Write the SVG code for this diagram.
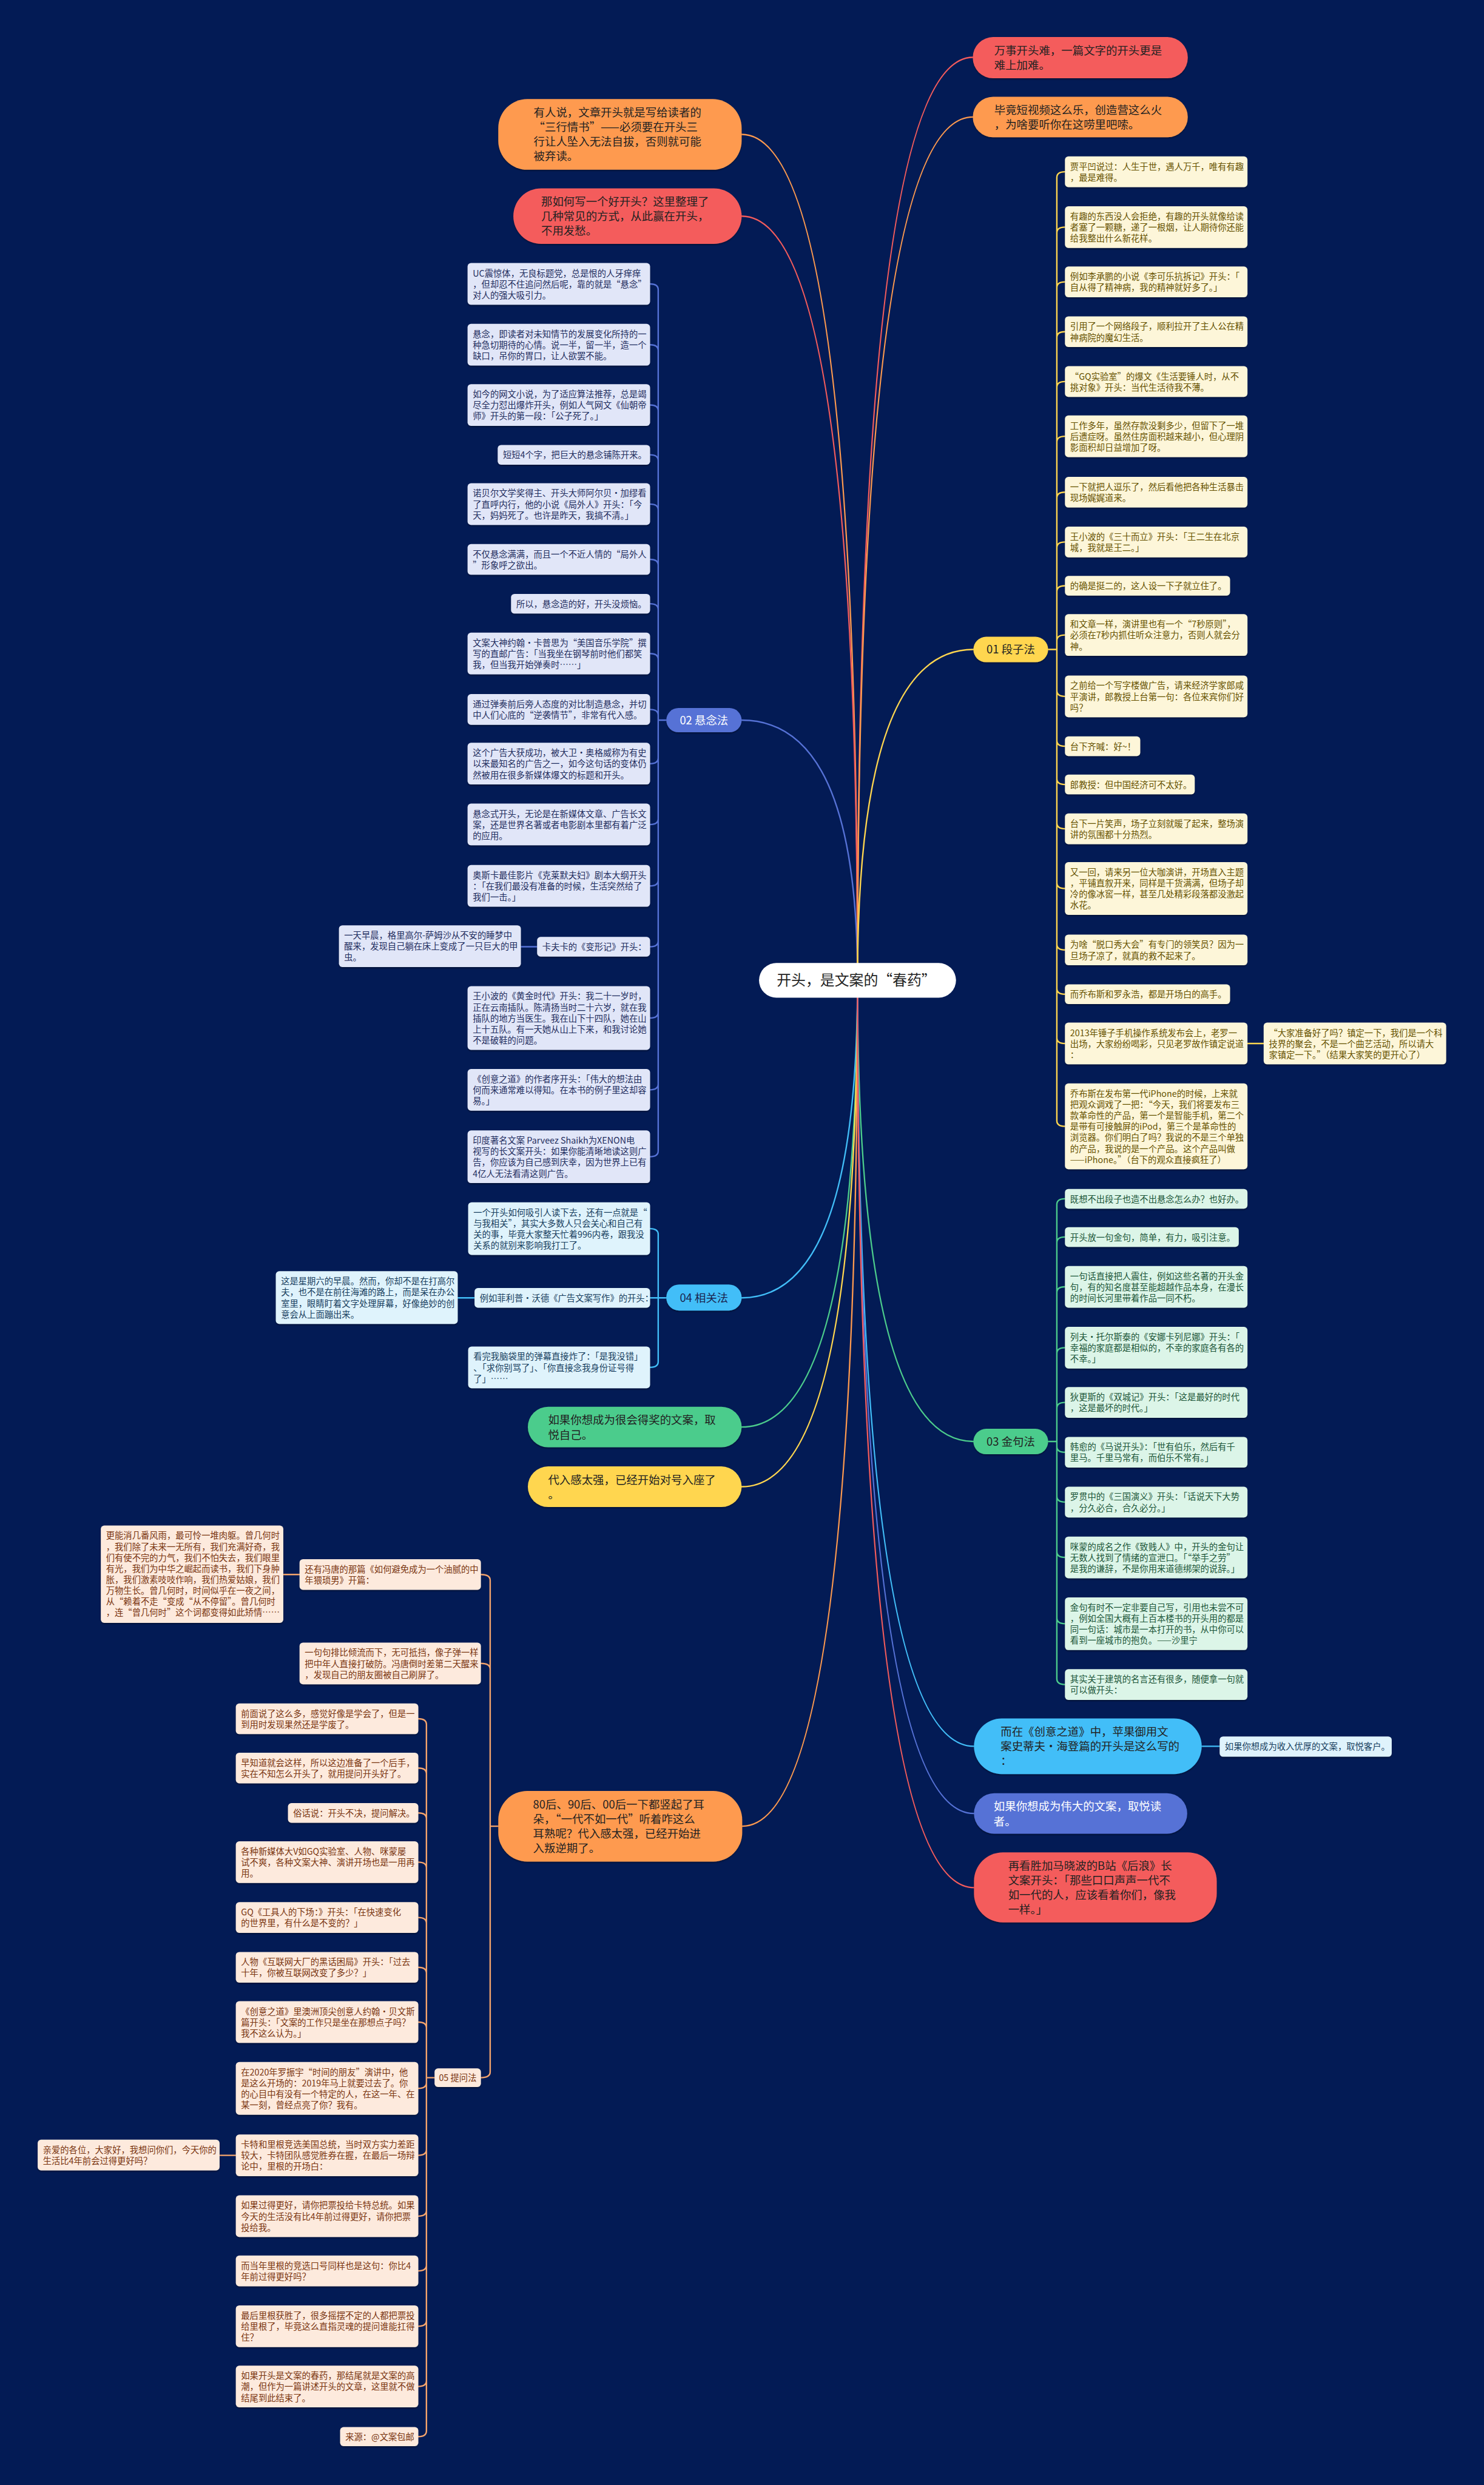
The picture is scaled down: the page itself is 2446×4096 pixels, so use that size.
<svg xmlns="http://www.w3.org/2000/svg" width="2446" height="4096" viewBox="0 0 2446 4096">
<defs>
<style>
text{font-family:'Noto Sans CJK SC','Microsoft YaHei','Liberation Sans',sans-serif}
.t1{font-size:19.3px;fill:#222}
.tw{fill:#fff}
.t2{font-size:15px}
.r02{fill:#e1e6f8}.x02{fill:#1f2d5e}
.r04{fill:#dff3fc}.x04{fill:#173e5e}
.r01{fill:#fdf6d9}.x01{fill:#665200}
.r03{fill:#dcf5e8}.x03{fill:#1b5538}
.r05{fill:#fdeadd}.x05{fill:#7a3510}
.box{filter:url(#sh)}
.ln{fill:none;stroke-width:2.5;stroke-linecap:round}
</style>
<filter id="sh" x="-5%" y="-10%" width="110%" height="130%"><feDropShadow dx="0" dy="2" stdDeviation="1" flood-color="#000" flood-opacity="0.35"/></filter>
</defs>
<rect x="0" y="0" width="2446" height="4096" fill="#031b55"/>
<g transform="scale(0.955)">
<g id="connectors">
<path class="ln" stroke="#fe9a4f" d="M1480 1692Q1480 232 1280 232"/>
<path class="ln" stroke="#f45c5c" d="M1480 1692Q1480 373 1280 373"/>
<path class="ln" stroke="#5672d6" d="M1480 1692Q1480 1243 1280 1243"/>
<path class="ln" stroke="#42bef8" d="M1480 1692Q1480 2240 1280 2240"/>
<path class="ln" stroke="#4ccc8c" d="M1480 1692Q1480 2463 1280 2463"/>
<path class="ln" stroke="#ffd64f" d="M1480 1692Q1480 2566 1280 2566"/>
<path class="ln" stroke="#fe9a4f" d="M1480 1692Q1480 3152 1281 3152"/>
<path class="ln" stroke="#f45c5c" d="M1480 1692Q1480 99 1679 99"/>
<path class="ln" stroke="#fe9a4f" d="M1480 1692Q1480 202 1679 202"/>
<path class="ln" stroke="#ffd64f" d="M1480 1692Q1480 1121 1680 1121"/>
<path class="ln" stroke="#4ccc8c" d="M1480 1692Q1480 2488 1680 2488"/>
<path class="ln" stroke="#42bef8" d="M1480 1692Q1480 3014 1681 3014"/>
<path class="ln" stroke="#5672d6" d="M1480 1692Q1480 3130 1681 3130"/>
<path class="ln" stroke="#f45c5c" d="M1480 1692Q1480 3258 1681 3258"/>
<path class="ln" stroke="#ffd64f" d="M1809 1121H1824M1824 306.5V1934M1824 306.5Q1824 296.5 1838 296.5M1824 402Q1824 392 1838 392M1824 496.5Q1824 486.5 1838 486.5M1824 582.5Q1824 572.5 1838 572.5M1824 668.5Q1824 658.5 1838 658.5M1824 763Q1824 753 1838 753M1824 859.5Q1824 849.5 1838 849.5M1824 945.5Q1824 935.5 1838 935.5M1824 1021Q1824 1011 1838 1011M1824 1106Q1824 1096 1838 1096M1824 1192Q1824 1202 1838 1202M1824 1278Q1824 1288 1838 1288M1824 1344Q1824 1354 1838 1354M1824 1420.5Q1824 1430.5 1838 1430.5M1824 1523.5Q1824 1533.5 1838 1533.5M1824 1629.5Q1824 1639.5 1838 1639.5M1824 1706Q1824 1716 1838 1716M1824 1791Q1824 1801 1838 1801M1824 1934Q1824 1944 1838 1944M2153 1801H2181"/>
<path class="ln" stroke="#4ccc8c" d="M1809 2488H1824M1824 2079V2897.5M1824 2079Q1824 2069 1838 2069M1824 2145Q1824 2135 1838 2135M1824 2231Q1824 2221 1838 2221M1824 2336Q1824 2326 1838 2326M1824 2430.5Q1824 2420.5 1838 2420.5M1824 2496.5Q1824 2506.5 1838 2506.5M1824 2582.5Q1824 2592.5 1838 2592.5M1824 2678Q1824 2688 1838 2688M1824 2792.5Q1824 2802.5 1838 2802.5M1824 2897.5Q1824 2907.5 1838 2907.5"/>
<path class="ln" stroke="#5672d6" d="M1150 1243H1136M1136 500V1986.5M1136 500Q1136 490 1122 490M1136 605Q1136 595 1122 595M1136 709Q1136 699 1122 699M1136 795Q1136 785 1122 785M1136 880Q1136 870 1122 870M1136 975.5Q1136 965.5 1122 965.5M1136 1052Q1136 1042 1122 1042M1136 1138Q1136 1128 1122 1128M1136 1234.5Q1136 1224.5 1122 1224.5M1136 1308Q1136 1318 1122 1318M1136 1413Q1136 1423 1122 1423M1136 1519Q1136 1529 1122 1529M1136 1624Q1136 1634 1122 1634M1136 1747Q1136 1757 1122 1757M1136 1871Q1136 1881 1122 1881M1136 1986.5Q1136 1996.5 1122 1996.5M927 1634H899"/>
<path class="ln" stroke="#42bef8" d="M1150 2240H1122M1136 2130.5V2350M1136 2130.5Q1136 2120.5 1122 2120.5M1136 2350Q1136 2360 1122 2360M819 2240H790M2074 3014H2105"/>
<path class="ln" stroke="#f5a46c" d="M860 3152H846M846 2727.5V3576M846 2727.5Q846 2717.5 830 2717.5M846 2881Q846 2871 830 2871M846 3576Q846 3586 830 3586M517 2717.5H489"/>
<path class="ln" stroke="#f5a46c" d="M750 3586H736M736 2976.5V4195.5M736 2976.5Q736 2966.5 722 2966.5M736 3061.5Q736 3051.5 722 3051.5M736 3139Q736 3129 722 3129M736 3224Q736 3214 722 3214M736 3319.5Q736 3309.5 722 3309.5M736 3405.5Q736 3395.5 722 3395.5M736 3500Q736 3490 722 3490M736 3594.5Q736 3604.5 722 3604.5M736 3710Q736 3720 722 3720M736 3815Q736 3825 722 3825M736 3909.5Q736 3919.5 722 3919.5M736 4005Q736 4015 722 4015M736 4109Q736 4119 722 4119M736 4195.5Q736 4205.5 722 4205.5M407 3720H379"/>
</g>
<g id="center"><rect x="1310" y="1662" width="340" height="60" rx="30" fill="#fff"/><text x="1478" y="1701" text-anchor="middle" style="font-size:25px;fill:#222">开头，是文案的“春药”</text></g>
<g id="r1"><rect class="box" x="1679" y="64" width="371" height="71" rx="35" fill="#f45c5c"/><text class="t1" x="1716" y="94"><tspan x="1716">万事开头难，一篇文字的开头更是</tspan><tspan x="1716" dy="25.3">难上加难。</tspan></text></g>
<g id="r2"><rect class="box" x="1679" y="167" width="371" height="70" rx="35" fill="#fe9a4f"/><text class="t1" x="1716" y="197"><tspan x="1716">毕竟短视频这么乐，创造营这么火</tspan><tspan x="1716" dy="25.3">，为啥要听你在这唠里吧嗦。</tspan></text></g>
<g id="l1"><rect class="box" x="860" y="171" width="420" height="122" rx="50" fill="#fe9a4f"/><text class="t1" x="921" y="201"><tspan x="921">有人说，文章开头就是写给读者的</tspan><tspan x="921" dy="25.3">“三行情书”——必须要在开头三</tspan><tspan x="921" dy="25.3">行让人坠入无法自拔，否则就可能</tspan><tspan x="921" dy="25.3">被弃读。</tspan></text></g>
<g id="l2"><rect class="box" x="886" y="325" width="394" height="96" rx="48" fill="#f45c5c"/><text class="t1" x="934" y="355"><tspan x="934">那如何写一个好开头？这里整理了</tspan><tspan x="934" dy="25.3">几种常见的方式，从此赢在开头，</tspan><tspan x="934" dy="25.3">不用发愁。</tspan></text></g>
<g id="n02"><rect class="box" x="1150" y="1222" width="130" height="42" rx="21" fill="#5672d6"/><text class="t1 tw" x="1215" y="1250" text-anchor="middle">02 悬念法</text></g>
<g id="n04"><rect class="box" x="1150" y="2217" width="130" height="45" rx="22" fill="#42bef8"/><text class="t1" x="1215" y="2247" text-anchor="middle" style="fill:#1a2550">04 相关法</text></g>
<g id="lgreen"><rect class="box" x="911" y="2428" width="369" height="70" rx="35" fill="#4ccc8c"/><text class="t1" x="946" y="2458"><tspan x="946">如果你想成为很会得奖的文案，取</tspan><tspan x="946" dy="25.3">悦自己。</tspan></text></g>
<g id="lyellow"><rect class="box" x="911" y="2531" width="369" height="70" rx="35" fill="#ffd64f"/><text class="t1" x="946" y="2561"><tspan x="946">代入感太强，已经开始对号入座了</tspan><tspan x="946" dy="25.3">。</tspan></text></g>
<g id="l80"><rect class="box" x="860" y="3091" width="421" height="122" rx="50" fill="#fe9a4f"/><text class="t1" x="920" y="3121"><tspan x="920">80后、90后、00后一下都竖起了耳</tspan><tspan x="920" dy="25.3">朵，“一代不如一代”听着咋这么</tspan><tspan x="920" dy="25.3">耳熟呢？代入感太强，已经开始进</tspan><tspan x="920" dy="25.3">入叛逆期了。</tspan></text></g>
<g id="n01"><rect class="box" x="1680" y="1099" width="129" height="44" rx="22" fill="#ffd64f"/><text class="t1" x="1744.5" y="1128" text-anchor="middle">01 段子法</text></g>
<g id="n03"><rect class="box" x="1680" y="2466" width="129" height="44" rx="22" fill="#4ccc8c"/><text class="t1" x="1744.5" y="2495" text-anchor="middle">03 金句法</text></g>
<g id="rblue"><rect class="box" x="1681" y="2966" width="393" height="96" rx="48" fill="#42bef8"/><text class="t1" x="1727" y="2996"><tspan x="1727">而在《创意之道》中，苹果御用文</tspan><tspan x="1727" dy="25.3">案史蒂夫·海登篇的开头是这么写的</tspan><tspan x="1727" dy="25.3">：</tspan></text></g>
<g id="rviolet"><rect class="box" x="1681" y="3095" width="368" height="70" rx="35" fill="#5672d6"/><text class="t1 tw" x="1715" y="3125"><tspan x="1715">如果你想成为伟大的文案，取悦读</tspan><tspan x="1715" dy="25.3">者。</tspan></text></g>
<g id="rred"><rect class="box" x="1681" y="3197" width="419" height="121" rx="50" fill="#f45c5c"/><text class="t1" x="1740" y="3227"><tspan x="1740">再看胜加马晓波的B站《后浪》长</tspan><tspan x="1740" dy="25.3">文案开头：「那些口口声声一代不</tspan><tspan x="1740" dy="25.3">如一代的人，应该看着你们，像我</tspan><tspan x="1740" dy="25.3">一样。」</tspan></text></g>

<g id="n02_1"><rect class="box r02" x="807" y="454" width="315" height="72" rx="6"/><text class="t2 x02" x="816" y="477"><tspan x="816">UC震惊体，无良标题党，总是恨的人牙痒痒</tspan><tspan x="816" dy="19">，但却忍不住追问然后呢，靠的就是“悬念”</tspan><tspan x="816" dy="19">对人的强大吸引力。</tspan></text></g>
<g id="n02_2"><rect class="box r02" x="807" y="559" width="315" height="72" rx="6"/><text class="t2 x02" x="816" y="582"><tspan x="816">悬念，即读者对未知情节的发展变化所持的一</tspan><tspan x="816" dy="19">种急切期待的心情。说一半，留一半，造一个</tspan><tspan x="816" dy="19">缺口，吊你的胃口，让人欲罢不能。</tspan></text></g>
<g id="n02_3"><rect class="box r02" x="807" y="663" width="315" height="72" rx="6"/><text class="t2 x02" x="816" y="686"><tspan x="816">如今的网文小说，为了适应算法推荐，总是竭</tspan><tspan x="816" dy="19">尽全力怼出爆炸开头，例如人气网文《仙朝帝</tspan><tspan x="816" dy="19">师》开头的第一段：「公子死了。」</tspan></text></g>
<g id="n02_4"><rect class="box r02" x="859" y="768" width="263" height="34" rx="6"/><text class="t2 x02" x="868" y="791">短短4个字，把巨大的悬念铺陈开来。</text></g>
<g id="n02_5"><rect class="box r02" x="807" y="834" width="315" height="72" rx="6"/><text class="t2 x02" x="816" y="857"><tspan x="816">诺贝尔文学奖得主、开头大师阿尔贝·加缪看</tspan><tspan x="816" dy="19">了直呼内行，他的小说《局外人》开头：「今</tspan><tspan x="816" dy="19">天，妈妈死了。也许是昨天，我搞不清。」</tspan></text></g>
<g id="n02_6"><rect class="box r02" x="807" y="939" width="315" height="53" rx="6"/><text class="t2 x02" x="816" y="962"><tspan x="816">不仅悬念满满，而且一个不近人情的“局外人</tspan><tspan x="816" dy="19">”形象呼之欲出。</tspan></text></g>
<g id="n02_7"><rect class="box r02" x="882" y="1025" width="240" height="34" rx="6"/><text class="t2 x02" x="891" y="1048">所以，悬念造的好，开头没烦恼。</text></g>
<g id="n02_8"><rect class="box r02" x="807" y="1092" width="315" height="72" rx="6"/><text class="t2 x02" x="816" y="1115"><tspan x="816">文案大神约翰·卡普思为“美国音乐学院”撰</tspan><tspan x="816" dy="19">写的直邮广告：「当我坐在钢琴前时他们都笑</tspan><tspan x="816" dy="19">我，但当我开始弹奏时……」</tspan></text></g>
<g id="n02_9"><rect class="box r02" x="807" y="1198" width="315" height="53" rx="6"/><text class="t2 x02" x="816" y="1221"><tspan x="816">通过弹奏前后旁人态度的对比制造悬念，并切</tspan><tspan x="816" dy="19">中人们心底的“逆袭情节”，非常有代入感。</tspan></text></g>
<g id="n02_10"><rect class="box r02" x="807" y="1282" width="315" height="72" rx="6"/><text class="t2 x02" x="816" y="1305"><tspan x="816">这个广告大获成功，被大卫·奥格威称为有史</tspan><tspan x="816" dy="19">以来最知名的广告之一，如今这句话的变体仍</tspan><tspan x="816" dy="19">然被用在很多新媒体爆文的标题和开头。</tspan></text></g>
<g id="n02_11"><rect class="box r02" x="807" y="1387" width="315" height="72" rx="6"/><text class="t2 x02" x="816" y="1410"><tspan x="816">悬念式开头，无论是在新媒体文章、广告长文</tspan><tspan x="816" dy="19">案，还是世界名著或者电影剧本里都有着广泛</tspan><tspan x="816" dy="19">的应用。</tspan></text></g>
<g id="n02_12"><rect class="box r02" x="807" y="1493" width="315" height="72" rx="6"/><text class="t2 x02" x="816" y="1516"><tspan x="816">奥斯卡最佳影片《克莱默夫妇》剧本大纲开头</tspan><tspan x="816" dy="19">：「在我们最没有准备的时候，生活突然给了</tspan><tspan x="816" dy="19">我们一击。」</tspan></text></g>
<g id="n02_13"><rect class="box r02" x="927" y="1617" width="195" height="34" rx="6"/><text class="t2 x02" x="936" y="1640">卡夫卡的《变形记》开头：</text></g>
<g id="n02_13a"><rect class="box r02" x="585" y="1597" width="314" height="72" rx="6"/><text class="t2 x02" x="594" y="1620"><tspan x="594">一天早晨，格里高尔-萨姆沙从不安的睡梦中</tspan><tspan x="594" dy="19">醒来，发现自己躺在床上变成了一只巨大的甲</tspan><tspan x="594" dy="19">虫。</tspan></text></g>
<g id="n02_14"><rect class="box r02" x="807" y="1702" width="315" height="110" rx="6"/><text class="t2 x02" x="816" y="1725"><tspan x="816">王小波的《黄金时代》开头：我二十一岁时，</tspan><tspan x="816" dy="19">正在云南插队。陈清扬当时二十六岁，就在我</tspan><tspan x="816" dy="19">插队的地方当医生。我在山下十四队，她在山</tspan><tspan x="816" dy="19">上十五队。有一天她从山上下来，和我讨论她</tspan><tspan x="816" dy="19">不是破鞋的问题。</tspan></text></g>
<g id="n02_15"><rect class="box r02" x="807" y="1845" width="315" height="72" rx="6"/><text class="t2 x02" x="816" y="1868"><tspan x="816">《创意之道》的作者序开头：「伟大的想法由</tspan><tspan x="816" dy="19">何而来通常难以得知。在本书的例子里这却容</tspan><tspan x="816" dy="19">易。」</tspan></text></g>
<g id="n02_16"><rect class="box r02" x="807" y="1951" width="315" height="91" rx="6"/><text class="t2 x02" x="816" y="1974"><tspan x="816">印度著名文案 Parveez Shaikh为XENON电</tspan><tspan x="816" dy="19">视写的长文案开头：如果你能清晰地读这则广</tspan><tspan x="816" dy="19">告，你应该为自己感到庆幸，因为世界上已有</tspan><tspan x="816" dy="19">4亿人无法看清这则广告。</tspan></text></g>

<g id="n04_1"><rect class="box r04" x="808" y="2075" width="314" height="91" rx="6"/><text class="t2 x04" x="817" y="2098"><tspan x="817">一个开头如何吸引人读下去，还有一点就是“</tspan><tspan x="817" dy="19">与我相关”，其实大多数人只会关心和自己有</tspan><tspan x="817" dy="19">关的事，毕竟大家整天忙着996内卷，跟我没</tspan><tspan x="817" dy="19">关系的就别来影响我打工了。</tspan></text></g>
<g id="n04_2"><rect class="box r04" x="819" y="2223" width="303" height="34" rx="6"/><text class="t2 x04" x="828" y="2246">例如菲利普·沃德《广告文案写作》的开头：</text></g>
<g id="n04_2a"><rect class="box r04" x="476" y="2194" width="314" height="91" rx="6"/><text class="t2 x04" x="485" y="2217"><tspan x="485">这是星期六的早晨。然而，你却不是在打高尔</tspan><tspan x="485" dy="19">夫，也不是在前往海滩的路上，而是呆在办公</tspan><tspan x="485" dy="19">室里，眼睛盯着文字处理屏幕，好像绝妙的创</tspan><tspan x="485" dy="19">意会从上面蹦出来。</tspan></text></g>
<g id="n04_3"><rect class="box r04" x="808" y="2324" width="314" height="72" rx="6"/><text class="t2 x04" x="817" y="2347"><tspan x="817">看完我脑袋里的弹幕直接炸了：「是我没错」</tspan><tspan x="817" dy="19">、「求你别骂了」、「你直接念我身份证号得</tspan><tspan x="817" dy="19">了」……</tspan></text></g>

<g id="n8_1"><rect class="box r05" x="517" y="2691" width="313" height="53" rx="6"/><text class="t2 x05" x="526" y="2714"><tspan x="526">还有冯唐的那篇《如何避免成为一个油腻的中</tspan><tspan x="526" dy="19">年猥琐男》开篇：</tspan></text></g>
<g id="n8_1a"><rect class="box r05" x="174" y="2633" width="315" height="168" rx="6"/><text class="t2 x05" x="183" y="2656"><tspan x="183">更能消几番风雨，最可怜一堆肉躯。曾几何时</tspan><tspan x="183" dy="19">，我们除了未来一无所有，我们充满好奇，我</tspan><tspan x="183" dy="19">们有使不完的力气，我们不怕失去，我们眼里</tspan><tspan x="183" dy="19">有光，我们为中华之崛起而读书，我们下身肿</tspan><tspan x="183" dy="19">胀，我们激素吱吱作响，我们热爱姑娘，我们</tspan><tspan x="183" dy="19">万物生长。曾几何时，时间似乎在一夜之间，</tspan><tspan x="183" dy="19">从“赖着不走“变成“从不停留”。曾几何时</tspan><tspan x="183" dy="19">，连“曾几何时”这个词都变得如此矫情……</tspan></text></g>
<g id="n8_2"><rect class="box r05" x="517" y="2835" width="313" height="72" rx="6"/><text class="t2 x05" x="526" y="2858"><tspan x="526">一句句排比倾流而下，无可抵挡，像子弹一样</tspan><tspan x="526" dy="19">把中年人直接打破防。冯唐倒时差第二天醒来</tspan><tspan x="526" dy="19">，发现自己的朋友圈被自己刷屏了。</tspan></text></g>
<g id="n05"><rect class="box r05" x="750" y="3570" width="80" height="32" rx="6"/><text class="t2 x05" x="790" y="3592" text-anchor="middle">05 提问法</text></g>

<g id="p1"><rect class="box r05" x="407" y="2940" width="315" height="53" rx="6"/><text class="t2 x05" x="416" y="2963"><tspan x="416">前面说了这么多，感觉好像是学会了，但是一</tspan><tspan x="416" dy="19">到用时发现果然还是学废了。</tspan></text></g>
<g id="p2"><rect class="box r05" x="407" y="3025" width="315" height="53" rx="6"/><text class="t2 x05" x="416" y="3048"><tspan x="416">早知道就会这样，所以这边准备了一个后手，</tspan><tspan x="416" dy="19">实在不知怎么开头了，就用提问开头好了。</tspan></text></g>
<g id="p3"><rect class="box r05" x="497" y="3112" width="225" height="34" rx="6"/><text class="t2 x05" x="506" y="3135">俗话说：开头不决，提问解决。</text></g>
<g id="p4"><rect class="box r05" x="407" y="3178" width="315" height="72" rx="6"/><text class="t2 x05" x="416" y="3201"><tspan x="416">各种新媒体大V如GQ实验室、人物、咪蒙屡</tspan><tspan x="416" dy="19">试不爽，各种文案大神、演讲开场也是一用再</tspan><tspan x="416" dy="19">用。</tspan></text></g>
<g id="p5"><rect class="box r05" x="407" y="3283" width="315" height="53" rx="6"/><text class="t2 x05" x="416" y="3306"><tspan x="416">GQ《工具人的下场：》开头：「在快速变化</tspan><tspan x="416" dy="19">的世界里，有什么是不变的？」</tspan></text></g>
<g id="p6"><rect class="box r05" x="407" y="3369" width="315" height="53" rx="6"/><text class="t2 x05" x="416" y="3392"><tspan x="416">人物《互联网大厂的黑话困局》开头：「过去</tspan><tspan x="416" dy="19">十年，你被互联网改变了多少？」</tspan></text></g>
<g id="p7"><rect class="box r05" x="407" y="3454" width="315" height="72" rx="6"/><text class="t2 x05" x="416" y="3477"><tspan x="416">《创意之道》里澳洲顶尖创意人约翰·贝文斯</tspan><tspan x="416" dy="19">篇开头：「文案的工作只是坐在那想点子吗？</tspan><tspan x="416" dy="19">我不这么认为。」</tspan></text></g>
<g id="p8"><rect class="box r05" x="407" y="3559" width="315" height="91" rx="6"/><text class="t2 x05" x="416" y="3582"><tspan x="416">在2020年罗振宇“时间的朋友”演讲中，他</tspan><tspan x="416" dy="19">是这么开场的：2019年马上就要过去了。你</tspan><tspan x="416" dy="19">的心目中有没有一个特定的人，在这一年、在</tspan><tspan x="416" dy="19">某一刻，曾经点亮了你？我有。</tspan></text></g>
<g id="p9"><rect class="box r05" x="407" y="3684" width="315" height="72" rx="6"/><text class="t2 x05" x="416" y="3707"><tspan x="416">卡特和里根竞选美国总统，当时双方实力差距</tspan><tspan x="416" dy="19">较大，卡特团队感觉胜券在握，在最后一场辩</tspan><tspan x="416" dy="19">论中，里根的开场白：</tspan></text></g>
<g id="p9a"><rect class="box r05" x="65" y="3693" width="314" height="53" rx="6"/><text class="t2 x05" x="74" y="3716"><tspan x="74">亲爱的各位，大家好，我想问你们，今天你的</tspan><tspan x="74" dy="19">生活比4年前会过得更好吗？</tspan></text></g>
<g id="p10"><rect class="box r05" x="407" y="3789" width="315" height="72" rx="6"/><text class="t2 x05" x="416" y="3812"><tspan x="416">如果过得更好，请你把票投给卡特总统。如果</tspan><tspan x="416" dy="19">今天的生活没有比4年前过得更好，请你把票</tspan><tspan x="416" dy="19">投给我。</tspan></text></g>
<g id="p11"><rect class="box r05" x="407" y="3893" width="315" height="53" rx="6"/><text class="t2 x05" x="416" y="3916"><tspan x="416">而当年里根的竞选口号同样也是这句：你比4</tspan><tspan x="416" dy="19">年前过得更好吗？</tspan></text></g>
<g id="p12"><rect class="box r05" x="407" y="3979" width="315" height="72" rx="6"/><text class="t2 x05" x="416" y="4002"><tspan x="416">最后里根获胜了，很多摇摆不定的人都把票投</tspan><tspan x="416" dy="19">给里根了，毕竟这么直指灵魂的提问谁能扛得</tspan><tspan x="416" dy="19">住？</tspan></text></g>
<g id="p13"><rect class="box r05" x="407" y="4083" width="315" height="72" rx="6"/><text class="t2 x05" x="416" y="4106"><tspan x="416">如果开头是文案的春药，那结尾就是文案的高</tspan><tspan x="416" dy="19">潮，但作为一篇讲述开头的文章，这里就不做</tspan><tspan x="416" dy="19">结尾到此结束了。</tspan></text></g>
<g id="p14"><rect class="box r05" x="587" y="4189" width="135" height="33" rx="6"/><text class="t2 x05" x="596" y="4212">来源：@文案包邮</text></g>

<g id="a1"><rect class="box r01" x="1838" y="270" width="315" height="53" rx="6"/><text class="t2 x01" x="1847" y="293"><tspan x="1847">贾平凹说过：人生于世，遇人万千，唯有有趣</tspan><tspan x="1847" dy="19">，最是难得。</tspan></text></g>
<g id="a2"><rect class="box r01" x="1838" y="356" width="315" height="72" rx="6"/><text class="t2 x01" x="1847" y="379"><tspan x="1847">有趣的东西没人会拒绝，有趣的开头就像给读</tspan><tspan x="1847" dy="19">者塞了一颗糖，递了一根烟，让人期待你还能</tspan><tspan x="1847" dy="19">给我整出什么新花样。</tspan></text></g>
<g id="a3"><rect class="box r01" x="1838" y="460" width="315" height="53" rx="6"/><text class="t2 x01" x="1847" y="483"><tspan x="1847">例如李承鹏的小说《李可乐抗拆记》开头：「</tspan><tspan x="1847" dy="19">自从得了精神病，我的精神就好多了。」</tspan></text></g>
<g id="a4"><rect class="box r01" x="1838" y="546" width="315" height="53" rx="6"/><text class="t2 x01" x="1847" y="569"><tspan x="1847">引用了一个网络段子，顺利拉开了主人公在精</tspan><tspan x="1847" dy="19">神病院的魔幻生活。</tspan></text></g>
<g id="a5"><rect class="box r01" x="1838" y="632" width="315" height="53" rx="6"/><text class="t2 x01" x="1847" y="655"><tspan x="1847">“GQ实验室”的爆文《生活要锤人时，从不</tspan><tspan x="1847" dy="19">挑对象》开头：当代生活待我不薄。</tspan></text></g>
<g id="a6"><rect class="box r01" x="1838" y="717" width="315" height="72" rx="6"/><text class="t2 x01" x="1847" y="740"><tspan x="1847">工作多年，虽然存款没剩多少，但留下了一堆</tspan><tspan x="1847" dy="19">后遗症呀。虽然住房面积越来越小，但心理阴</tspan><tspan x="1847" dy="19">影面积却日益增加了呀。</tspan></text></g>
<g id="a7"><rect class="box r01" x="1838" y="823" width="315" height="53" rx="6"/><text class="t2 x01" x="1847" y="846"><tspan x="1847">一下就把人逗乐了，然后看他把各种生活暴击</tspan><tspan x="1847" dy="19">现场娓娓道来。</tspan></text></g>
<g id="a8"><rect class="box r01" x="1838" y="909" width="315" height="53" rx="6"/><text class="t2 x01" x="1847" y="932"><tspan x="1847">王小波的《三十而立》开头：「王二生在北京</tspan><tspan x="1847" dy="19">城，我就是王二。」</tspan></text></g>
<g id="a9"><rect class="box r01" x="1838" y="994" width="285" height="34" rx="6"/><text class="t2 x01" x="1847" y="1017">的确是挺二的，这人设一下子就立住了。</text></g>
<g id="a10"><rect class="box r01" x="1838" y="1060" width="315" height="72" rx="6"/><text class="t2 x01" x="1847" y="1083"><tspan x="1847">和文章一样，演讲里也有一个“7秒原则”，</tspan><tspan x="1847" dy="19">必须在7秒内抓住听众注意力，否则人就会分</tspan><tspan x="1847" dy="19">神。</tspan></text></g>
<g id="a11"><rect class="box r01" x="1838" y="1166" width="315" height="72" rx="6"/><text class="t2 x01" x="1847" y="1189"><tspan x="1847">之前给一个写字楼做广告，请来经济学家郎咸</tspan><tspan x="1847" dy="19">平演讲，郎教授上台第一句：各位来宾你们好</tspan><tspan x="1847" dy="19">吗？</tspan></text></g>
<g id="a12"><rect class="box r01" x="1838" y="1271" width="130" height="34" rx="6"/><text class="t2 x01" x="1847" y="1294">台下齐喊：好~！</text></g>
<g id="a13"><rect class="box r01" x="1838" y="1337" width="224" height="34" rx="6"/><text class="t2 x01" x="1847" y="1360">郎教授：但中国经济可不太好。</text></g>
<g id="a14"><rect class="box r01" x="1838" y="1404" width="315" height="53" rx="6"/><text class="t2 x01" x="1847" y="1427"><tspan x="1847">台下一片笑声，场子立刻就暖了起来，整场演</tspan><tspan x="1847" dy="19">讲的氛围都十分热烈。</tspan></text></g>
<g id="a15"><rect class="box r01" x="1838" y="1488" width="315" height="91" rx="6"/><text class="t2 x01" x="1847" y="1511"><tspan x="1847">又一回，请来另一位大咖演讲，开场直入主题</tspan><tspan x="1847" dy="19">，平铺直叙开来，同样是干货满满，但场子却</tspan><tspan x="1847" dy="19">冷的像冰窖一样，甚至几处精彩段落都没激起</tspan><tspan x="1847" dy="19">水花。</tspan></text></g>
<g id="a16"><rect class="box r01" x="1838" y="1613" width="315" height="53" rx="6"/><text class="t2 x01" x="1847" y="1636"><tspan x="1847">为啥“脱口秀大会”有专门的领笑员？因为一</tspan><tspan x="1847" dy="19">旦场子凉了，就真的救不起来了。</tspan></text></g>
<g id="a17"><rect class="box r01" x="1838" y="1699" width="285" height="34" rx="6"/><text class="t2 x01" x="1847" y="1722">而乔布斯和罗永浩，都是开场白的高手。</text></g>
<g id="a18"><rect class="box r01" x="1838" y="1765" width="315" height="72" rx="6"/><text class="t2 x01" x="1847" y="1788"><tspan x="1847">2013年锤子手机操作系统发布会上，老罗一</tspan><tspan x="1847" dy="19">出场，大家纷纷喝彩，只见老罗故作镇定说道</tspan><tspan x="1847" dy="19">：</tspan></text></g>
<g id="a18a"><rect class="box r01" x="2181" y="1765" width="315" height="72" rx="6"/><text class="t2 x01" x="2190" y="1788"><tspan x="2190">“大家准备好了吗？镇定一下，我们是一个科</tspan><tspan x="2190" dy="19">技界的聚会，不是一个曲艺活动，所以请大</tspan><tspan x="2190" dy="19">家镇定一下。”（结果大家笑的更开心了）</tspan></text></g>
<g id="a19"><rect class="box r01" x="1838" y="1870" width="315" height="148" rx="6"/><text class="t2 x01" x="1847" y="1893"><tspan x="1847">乔布斯在发布第一代iPhone的时候，上来就</tspan><tspan x="1847" dy="19">把观众调戏了一把：“今天，我们将要发布三</tspan><tspan x="1847" dy="19">款革命性的产品，第一个是智能手机，第二个</tspan><tspan x="1847" dy="19">是带有可接触屏的iPod，第三个是革命性的</tspan><tspan x="1847" dy="19">浏览器。你们明白了吗？我说的不是三个单独</tspan><tspan x="1847" dy="19">的产品，我说的是一个产品。这个产品叫做</tspan><tspan x="1847" dy="19">——iPhone。”（台下的观众直接疯狂了）</tspan></text></g>

<g id="g1"><rect class="box r03" x="1838" y="2052" width="315" height="34" rx="6"/><text class="t2 x03" x="1847" y="2075">既想不出段子也造不出悬念怎么办？也好办。</text></g>
<g id="g2"><rect class="box r03" x="1838" y="2118" width="300" height="34" rx="6"/><text class="t2 x03" x="1847" y="2141">开头放一句金句，简单，有力，吸引注意。</text></g>
<g id="g3"><rect class="box r03" x="1838" y="2185" width="315" height="72" rx="6"/><text class="t2 x03" x="1847" y="2208"><tspan x="1847">一句话直接把人震住，例如这些名著的开头金</tspan><tspan x="1847" dy="19">句，有的知名度甚至能超越作品本身，在漫长</tspan><tspan x="1847" dy="19">的时间长河里带着作品一同不朽。</tspan></text></g>
<g id="g4"><rect class="box r03" x="1838" y="2290" width="315" height="72" rx="6"/><text class="t2 x03" x="1847" y="2313"><tspan x="1847">列夫·托尔斯泰的《安娜卡列尼娜》开头：「</tspan><tspan x="1847" dy="19">幸福的家庭都是相似的，不幸的家庭各有各的</tspan><tspan x="1847" dy="19">不幸。」</tspan></text></g>
<g id="g5"><rect class="box r03" x="1838" y="2394" width="315" height="53" rx="6"/><text class="t2 x03" x="1847" y="2417"><tspan x="1847">狄更斯的《双城记》开头：「这是最好的时代</tspan><tspan x="1847" dy="19">，这是最坏的时代。」</tspan></text></g>
<g id="g6"><rect class="box r03" x="1838" y="2480" width="315" height="53" rx="6"/><text class="t2 x03" x="1847" y="2503"><tspan x="1847">韩愈的《马说开头》：「世有伯乐，然后有千</tspan><tspan x="1847" dy="19">里马。千里马常有，而伯乐不常有。」</tspan></text></g>
<g id="g7"><rect class="box r03" x="1838" y="2566" width="315" height="53" rx="6"/><text class="t2 x03" x="1847" y="2589"><tspan x="1847">罗贯中的《三国演义》开头：「话说天下大势</tspan><tspan x="1847" dy="19">，分久必合，合久必分。」</tspan></text></g>
<g id="g8"><rect class="box r03" x="1838" y="2652" width="315" height="72" rx="6"/><text class="t2 x03" x="1847" y="2675"><tspan x="1847">咪蒙的成名之作《致贱人》中，开头的金句让</tspan><tspan x="1847" dy="19">无数人找到了情绪的宣泄口。「“举手之劳”</tspan><tspan x="1847" dy="19">是我的谦辞，不是你用来道德绑架的说辞。」</tspan></text></g>
<g id="g9"><rect class="box r03" x="1838" y="2757" width="315" height="91" rx="6"/><text class="t2 x03" x="1847" y="2780"><tspan x="1847">金句有时不一定非要自己写，引用也未尝不可</tspan><tspan x="1847" dy="19">，例如全国大概有上百本楼书的开头用的都是</tspan><tspan x="1847" dy="19">同一句话：城市是一本打开的书，从中你可以</tspan><tspan x="1847" dy="19">看到一座城市的抱负。——沙里宁</tspan></text></g>
<g id="g10"><rect class="box r03" x="1838" y="2881" width="315" height="53" rx="6"/><text class="t2 x03" x="1847" y="2904"><tspan x="1847">其实关于建筑的名言还有很多，随便拿一句就</tspan><tspan x="1847" dy="19">可以做开头：</tspan></text></g>
<g id="rblue_c"><rect class="box r04" x="2105" y="2997" width="297" height="35" rx="6"/><text class="t2 x04" x="2114" y="3020">如果你想成为收入优厚的文案，取悦客户。</text></g>
</g>
</svg>
